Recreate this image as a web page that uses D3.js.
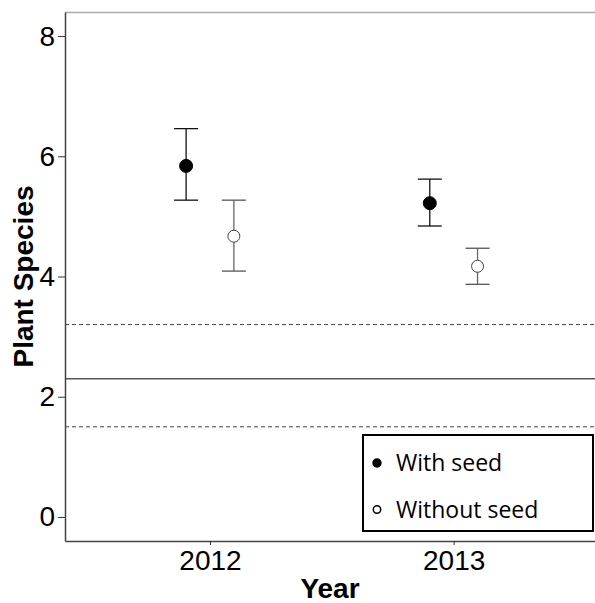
<!DOCTYPE html>
<html>
<head>
<meta charset="utf-8">
<script src="https://cdn.jsdelivr.net/npm/d3@7"></script>
<style>
  body { margin: 0; background: #fff; }
</style>
</head>
<body>
<div id="chart"></div>
<script>
// Data
const years = [2012, 2013];
const groups = ['With seed', 'Without seed'];
const means = [[5.84, 4.67], [5.22, 4.17]];   // [year][group]
const lower = [[5.27, 4.09], [4.84, 3.87]];
const upper = [[6.46, 5.27], [5.62, 4.47]];
const refLines = [
  { value: 2.30, dashed: false },
  { value: 3.20, dashed: true },
  { value: 1.50, dashed: true }
];
const yTicks = [0, 2, 4, 6, 8];

const width = 595;
const height = 603;
const margin = { top: 12, right: 0, bottom: 62, left: 65 };

const svg = d3.select('#chart')
  .append('svg')
  .attr('width', width)
  .attr('height', height);

const x = d3.scaleLinear()
  .domain([2011.405, 2013.58])
  .range([margin.left, width - margin.right]);

const y = d3.scaleLinear()
  .domain([-0.4, 8.4])
  .range([height - margin.bottom, margin.top]);

const dodge = 0.098; // offset of each group from the year, in years

// top border
svg.append('line')
  .attr('x1', margin.left).attr('x2', width)
  .attr('y1', margin.top + 0.5).attr('y2', margin.top + 0.5)
  .attr('stroke', '#aaa').attr('stroke-width', 1.5);

// reference lines
svg.selectAll('.ref')
  .data(refLines)
  .enter().append('line')
  .attr('class', 'ref')
  .attr('x1', margin.left).attr('x2', width)
  .attr('y1', d => y(d.value)).attr('y2', d => y(d.value))
  .attr('stroke', d => d.dashed ? '#444' : '#555')
  .attr('stroke-width', d => d.dashed ? 1 : 1.5)
  .attr('stroke-dasharray', d => d.dashed ? '4,3' : null);

// y axis
const yAxis = svg.append('g')
  .attr('transform', `translate(${margin.left},0)`)
  .call(d3.axisLeft(y).tickValues(yTicks).tickSize(7).tickPadding(3).tickSizeOuter(0));
yAxis.select('.domain').attr('stroke', '#444').attr('stroke-width', 1.5);
yAxis.selectAll('.tick line').attr('stroke', '#333');
yAxis.selectAll('text')
  .attr('font-family', 'Liberation Sans, Arial, sans-serif')
  .attr('font-size', 28)
  .attr('fill', '#000');

// x axis
const xAxis = svg.append('g')
  .attr('transform', `translate(0,${height - margin.bottom})`)
  .call(d3.axisBottom(x).tickValues(years).tickFormat(d3.format('d')).tickSize(4).tickPadding(5).tickSizeOuter(0));
xAxis.select('.domain').attr('stroke', '#444').attr('stroke-width', 1.5);
xAxis.selectAll('.tick line').attr('stroke', '#333');
xAxis.selectAll('text')
  .attr('font-family', 'Liberation Sans, Arial, sans-serif')
  .attr('font-size', 28)
  .attr('fill', '#000');

// axis titles
svg.append('text')
  .attr('x', (margin.left + width) / 2)
  .attr('y', 598)
  .attr('text-anchor', 'middle')
  .attr('font-family', 'Liberation Sans, Arial, sans-serif')
  .attr('font-weight', 'bold')
  .attr('font-size', 28)
  .text('Year');

svg.append('text')
  .attr('transform', `translate(33,${(margin.top + height - margin.bottom) / 2}) rotate(-90)`)
  .attr('text-anchor', 'middle')
  .attr('font-family', 'Liberation Sans, Arial, sans-serif')
  .attr('font-weight', 'bold')
  .attr('font-size', 28)
  .text('Plant Species');

// points with error bars
const pts = [];
years.forEach((yr, i) => {
  groups.forEach((g, j) => {
    pts.push({ year: yr, group: j, mean: means[i][j], lo: lower[i][j], hi: upper[i][j] });
  });
});

const cap = 12;
const bars = svg.selectAll('.pt')
  .data(pts)
  .enter().append('g')
  .attr('class', 'pt');

bars.append('line')
  .attr('x1', d => x(d.year + (d.group === 0 ? -dodge : dodge)))
  .attr('x2', d => x(d.year + (d.group === 0 ? -dodge : dodge)))
  .attr('y1', d => y(d.lo)).attr('y2', d => y(d.hi))
  .attr('stroke', d => d.group === 0 ? '#111' : '#666')
  .attr('stroke-width', 1.3);

bars.selectAll('.cap')
  .data(d => [d.lo, d.hi].map(v => ({ v: v, d: d })))
  .enter().append('line')
  .attr('x1', c => x(c.d.year + (c.d.group === 0 ? -dodge : dodge)) - cap)
  .attr('x2', c => x(c.d.year + (c.d.group === 0 ? -dodge : dodge)) + cap)
  .attr('y1', c => y(c.v)).attr('y2', c => y(c.v))
  .attr('stroke', c => c.d.group === 0 ? '#111' : '#555')
  .attr('stroke-width', 1.3);

bars.append('circle')
  .attr('cx', d => x(d.year + (d.group === 0 ? -dodge : dodge)))
  .attr('cy', d => y(d.mean))
  .attr('r', d => d.group === 0 ? 6.5 : 6)
  .attr('fill', d => d.group === 0 ? '#000' : '#fff')
  .attr('stroke', d => d.group === 0 ? '#000' : '#444')
  .attr('stroke-width', 1);

// legend
const legend = svg.append('g');
legend.append('rect')
  .attr('x', 363).attr('y', 435)
  .attr('width', 230).attr('height', 96)
  .attr('fill', '#fff')
  .attr('stroke', '#000')
  .attr('stroke-width', 2);

groups.forEach((g, j) => {
  const cy = 463 + j * 46.5;
  legend.append('circle')
    .attr('cx', 377).attr('cy', cy)
    .attr('r', j === 0 ? 4.7 : 3.7)
    .attr('fill', j === 0 ? '#000' : '#fff')
    .attr('stroke', '#000')
    .attr('stroke-width', j === 0 ? 0 : 1.5);
  legend.append('text')
    .attr('x', 396).attr('y', cy + 8)
    .attr('font-family', 'Open Sans, sans-serif')
    .attr('font-size', 23)
    .attr('fill', '#000')
    .text(g);
});
</script>
</body>
</html>
